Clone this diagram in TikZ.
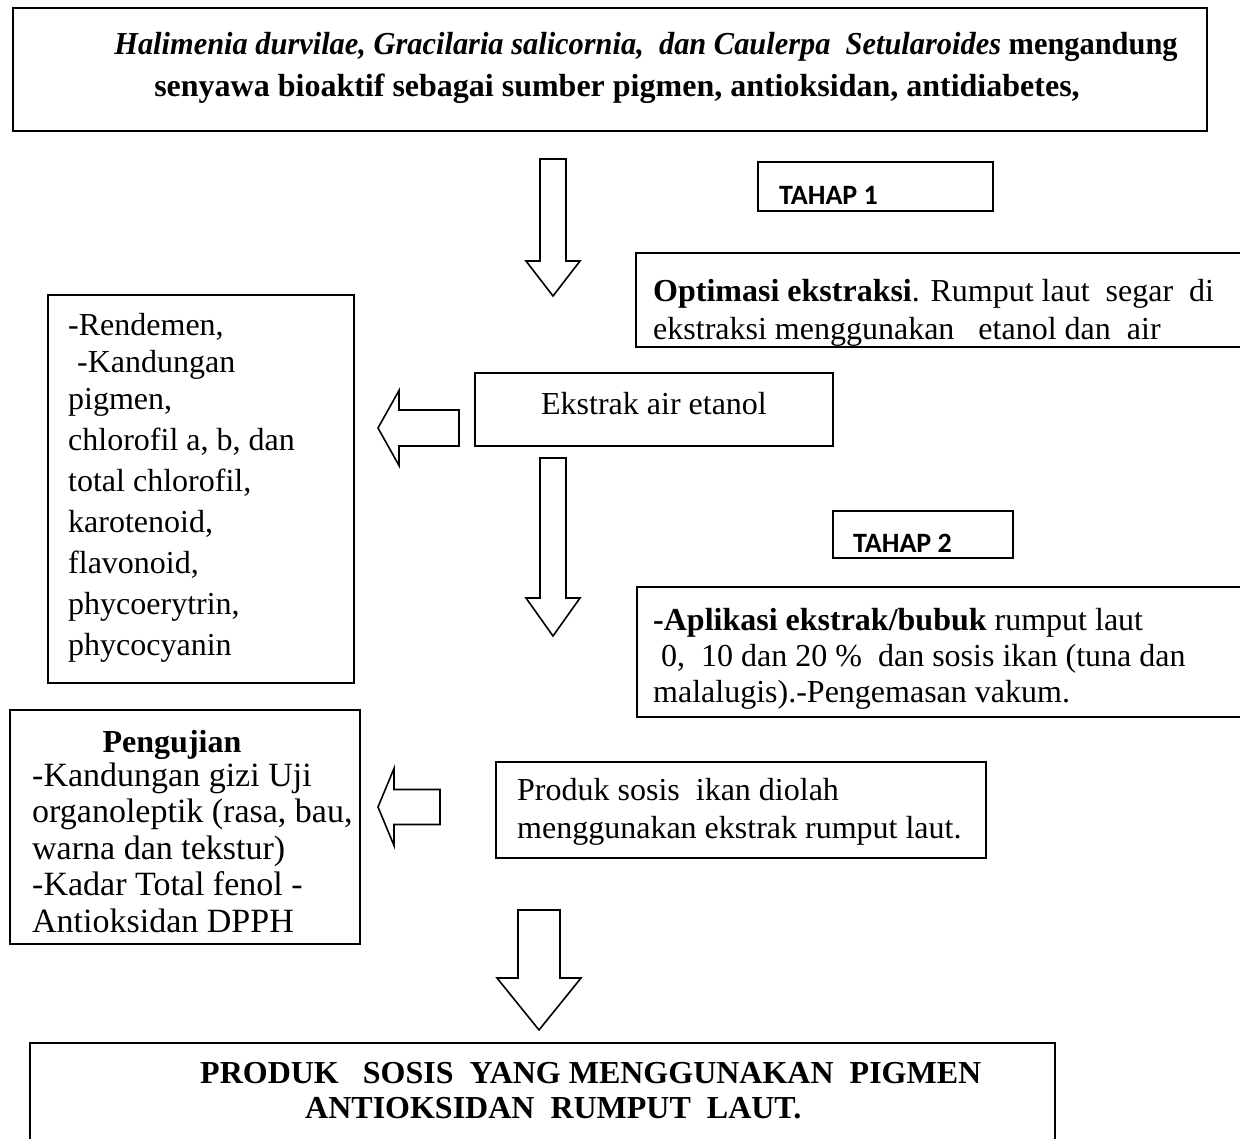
\documentclass[tikz,border=0pt]{standalone}
\usepackage{fontspec}
\setmainfont{Liberation Serif}
\newfontfamily\calibri{Carlito}
\newcommand{\darrow}[6]{\draw[blockarrow] (#1-#5,#2) -- (#1+#5,#2) -- (#1+#5,#3) -- (#1+#6,#3) -- (#1,#4) -- (#1-#6,#3) -- (#1-#5,#3) -- cycle;}
\newcommand{\larrow}[6]{\draw[blockarrow] (#2,#1-#5) -- (#2,#1+#5) -- (#3,#1+#5) -- (#3,#1+#6) -- (#4,#1) -- (#3,#1-#6) -- (#3,#1-#5) -- cycle;}
\begin{document}
\begin{tikzpicture}[
      x=1pt, y=-1pt,
      box/.style={draw=black, line width=1.8pt, anchor=north west, inner sep=0pt, outer sep=0pt},
      blockarrow/.style={draw=black, line width=1.6pt, line join=miter, fill=white},
      txt/.style={inner sep=0pt, align=left, font=\fontsize{32}{38}\selectfont},
      tahap/.style={inner sep=0pt, anchor=base west, font=\calibri\bfseries\fontsize{28}{32}\selectfont}
      ]
      \useasboundingbox (0,0) rectangle (1240,1139);
      % boxes
      \node[box, minimum width=1194, minimum height=123] (head) at (13,8) {};
      \node[box, minimum width=235, minimum height=49] (tahapA) at (758,162) {};
      \node[box, minimum width=620, minimum height=94] (optim) at (636,253) {};
      \node[box, minimum width=306, minimum height=388] (rend) at (48,295) {};
      \node[box, minimum width=358, minimum height=73] (ekstrak) at (475,373) {};
      \node[box, minimum width=180, minimum height=47] (tahapB) at (833,511) {};
      \node[box, minimum width=620, minimum height=130] (aplik) at (637,587) {};
      \node[box, minimum width=350, minimum height=234] (uji) at (10,710) {};
      \node[box, minimum width=490, minimum height=96] (produk) at (496,762) {};
      \node[box, minimum width=1025, minimum height=110] (hasil) at (30,1043) {};
      % texts (base = last line)
      \node[txt, align=center, anchor=base, font=\fontsize{32}{42}\selectfont] (headtxt) at (617,97) {
        \hspace*{58pt}\scalebox{0.95}[1]{\textbf{\textit{Halimenia durvilae, Gracilaria salicornia,\ \ dan Caulerpa\ \ Setularoides}} \textbf{mengandung}}\\
        \textbf{senyawa bioaktif sebagai sumber pigmen, antioksidan, antidiabetes,}};
      \node[tahap] (tahapAtxt) at (779,205) {TAHAP 1};
      \begin{scope}
        \clip (optim.north west) rectangle ([yshift=1pt]optim.south east);
        \node[txt, anchor=base west] (optimtxt) at (653,340) {
          \textbf{Optimasi ekstraksi}. Rumput laut\ \ segar\ \ di\\
          ekstraksi menggunakan\ \ \ etanol dan\ \ air};
      \end{scope}
      \node[txt, anchor=base west, font=\fontsize{32}{37}\selectfont] (rendtxt) at (68,655) {
        -Rendemen,\\
        \hspace*{9pt}-Kandungan\\
        pigmen,\\[4pt]
        chlorofil a, b, dan\\[4pt]
        total chlorofil,\\[4pt]
        karotenoid,\\[4pt]
        flavonoid,\\[4pt]
        phycoerytrin,\\[4pt]
        phycocyanin};
      \node[txt, anchor=base] (ekstraktxt) at (654,415) {Ekstrak air etanol};
      \node[tahap] (tahapBtxt) at (853,552) {TAHAP 2};
      \node[txt, anchor=base west, font=\fontsize{32}{36}\selectfont] (apliktxt) at (653,702) {
        \textbf{-Aplikasi ekstrak/bubuk} rumput laut\\
        \hspace*{8pt}0,\ \ 10 dan 20 \%\ \ dan sosis ikan (tuna dan\\
        malalugis).-Pengemasan vakum.};
      \node[txt, anchor=base, font=\bfseries\fontsize{32}{38}\selectfont] (ujihead) at (172,752) {Pengujian};
      \node[txt, anchor=base west, font=\fontsize{34}{36.5}\selectfont] (ujitxt) at (32,932) {
        -Kandungan gizi Uji\\
        organoleptik (rasa, bau,\\
        warna dan tekstur)\\
        -Kadar Total fenol -\\
        Antioksidan DPPH};
      \node[txt, anchor=base west] (produktxt) at (517,838) {
        Produk sosis\ \ ikan diolah\\
        menggunakan ekstrak rumput laut.};
      \node[txt, anchor=base west, font=\bfseries\fontsize{32}{35}\selectfont] (hasiltxt) at (200,1118) {
        PRODUK\ \ \ SOSIS\ \ YANG MENGGUNAKAN\ \ PIGMEN\\
        \hspace*{105pt}ANTIOKSIDAN\ \ RUMPUT\ \ LAUT.};
      % block arrows
      \darrow{553}{159}{261}{296}{13}{27}
      \darrow{553}{458}{598}{636}{13}{27}
      \darrow{539}{910}{978}{1030}{21}{42}
      \larrow{428}{459}{399}{378}{18}{37.5}
      \larrow{807}{440}{394}{378}{17.5}{38.5}
    \end{tikzpicture}
\end{document}
